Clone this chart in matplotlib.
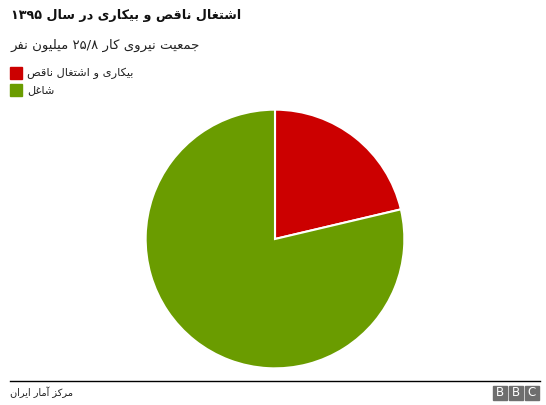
import re
import matplotlib
matplotlib.use("Agg")
import matplotlib.pyplot as plt
from matplotlib.patches import Rectangle
from matplotlib.lines import Line2D

# ---------------------------------------------------------------- data
title = "اشتغال ناقص و بیکاری در سال ۱۳۹۵"
subtitle = "جمعیت نیروی کار ۲۵/۸ میلیون نفر"
source = "مرکز آمار ایران"
labels = ["بیکاری و اشتغال ناقص", "شاغل"]
values = [5.5, 20.3]          # million people
colors = ["#cc0000", "#6a9c00"]

# ---------------------------------------------------------------- tiny arabic shaper
# (isolated, final, initial, medial); two-form letters don't join to the next
FORMS = {
    "ا": (0xFE8D, 0xFE8E), "آ": (0xFE81, 0xFE82), "د": (0xFEA9, 0xFEAA),
    "ذ": (0xFEAB, 0xFEAC), "ر": (0xFEAD, 0xFEAE), "ز": (0xFEAF, 0xFEB0),
    "ژ": (0xFB8A, 0xFB8B), "و": (0xFEED, 0xFEEE),
    "ب": (0xFE8F,), "پ": (0xFB56,), "ت": (0xFE95,), "ث": (0xFE99,),
    "ج": (0xFE9D,), "چ": (0xFB7A,), "ح": (0xFEA1,), "خ": (0xFEA5,),
    "س": (0xFEB1,), "ش": (0xFEB5,), "ص": (0xFEB9,), "ض": (0xFEBD,),
    "ط": (0xFEC1,), "ظ": (0xFEC5,), "ع": (0xFEC9,), "غ": (0xFECD,),
    "ف": (0xFED1,), "ق": (0xFED5,), "ک": (0xFB8E,), "گ": (0xFB92,),
    "ل": (0xFEDD,), "م": (0xFEE1,), "ن": (0xFEE5,), "ه": (0xFEE9,),
    "ی": (0xFBFC,),
}
for k, v in list(FORMS.items()):
    if len(v) == 1:
        FORMS[k] = tuple(v[0] + i for i in range(4))


def shape(s):
    out = []
    for i, c in enumerate(s):
        if c not in FORMS:
            out.append(c)
            continue
        f = FORMS[c]
        prev = s[i - 1] if i > 0 else ""
        nxt = s[i + 1] if i + 1 < len(s) else ""
        jp = prev in FORMS and len(FORMS[prev]) == 4
        jn = nxt in FORMS and len(f) == 4
        if jp and jn:
            out.append(chr(f[3]))
        elif jp:
            out.append(chr(f[1]))
        elif jn:
            out.append(chr(f[2]))
        else:
            out.append(chr(f[0]))
    vis = "".join(out)[::-1]
    return re.sub(r"[۰-۹]+(?:/[۰-۹]+)*", lambda m: m.group(0)[::-1], vis)


# ---------------------------------------------------------------- figure
W, H = 546, 405
fig = plt.figure(figsize=(W / 100, H / 100), dpi=100)
fig.patch.set_facecolor("white")

def fx(x):
    return x / W

def fy(y):
    return 1 - y / H

fig.text(fx(11), fy(16), shape(title), fontsize=9.2, fontweight="bold",
         ha="left", va="center", color="#111")
fig.text(fx(11), fy(45), shape(subtitle), fontsize=9.5,
         ha="left", va="center", color="#222")

# legend
for i, lab in enumerate(labels):
    y0 = 67 + i * 17
    fig.patches.append(Rectangle((fx(10), fy(y0 + 12)), fx(12), 12 / H,
                                 transform=fig.transFigure, color=colors[i]))
    fig.text(fx(27), fy(y0 + 6), shape(lab), fontsize=8.2,
             ha="left", va="center", color="#222")

# pie
ax = fig.add_axes([fx(145), fy(369), fx(260), 260 / H])
ax.pie(values, colors=colors, startangle=90, counterclock=False,
       wedgeprops=dict(edgecolor="white", linewidth=1.5))
ax.set_xlim(-1.005, 1.005)
ax.set_ylim(-1.005, 1.005)
ax.set_aspect("equal")
ax.axis("off")

# footer
fig.lines.append(Line2D([fx(10), fx(540)], [fy(381), fy(381)],
                        transform=fig.transFigure, color="black", lw=1))
fig.text(fx(10), fy(392), shape(source), fontsize=7.0,
         ha="left", va="center", color="#222")
for i, ch in enumerate("BBC"):
    x0 = 493 + i * 16
    fig.patches.append(Rectangle((fx(x0), fy(400)), fx(14), 14 / H,
                                 transform=fig.transFigure, color="#6e6e6e"))
    fig.text(fx(x0 + 7), fy(393), ch, fontsize=8.5,
             ha="center", va="center", color="white")

fig.savefig("out.png", dpi=100)
